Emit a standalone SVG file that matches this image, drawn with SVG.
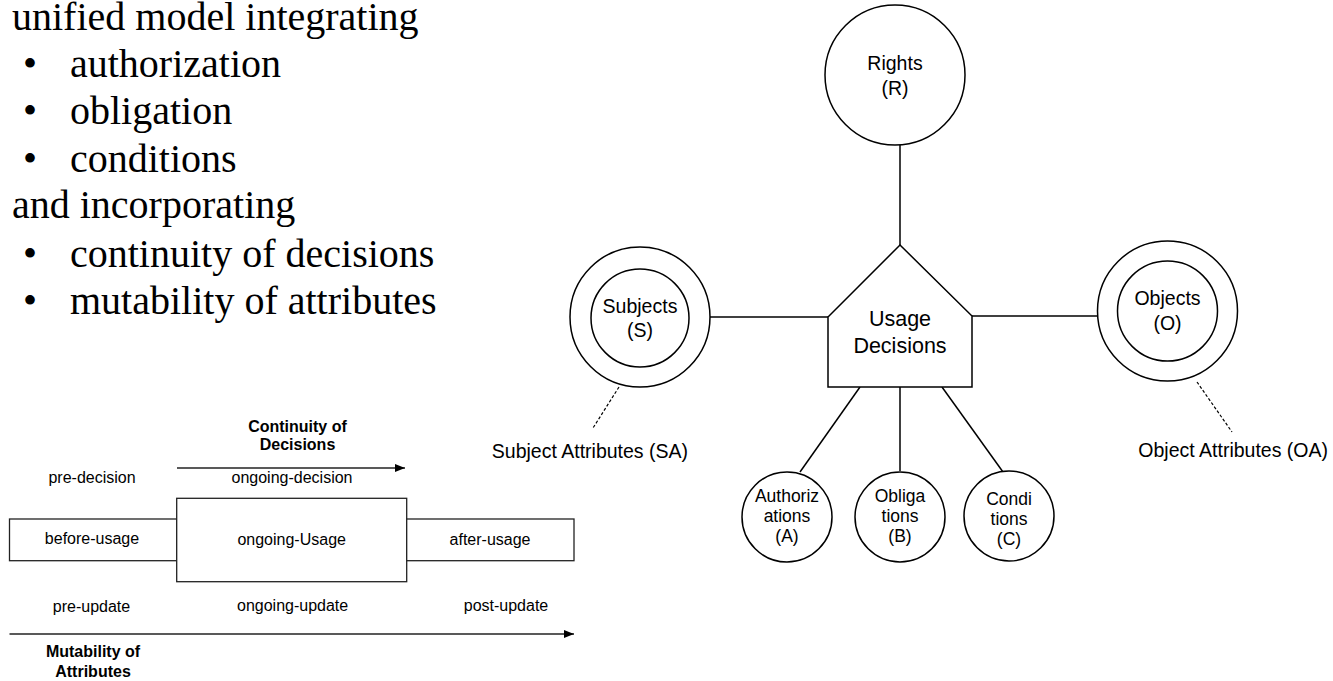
<svg xmlns="http://www.w3.org/2000/svg" width="1333" height="681" viewBox="0 0 1333 681">
<defs>
<style>
.bg{fill:#fff}
.shape{fill:#fff;stroke:#000;stroke-width:1.5}
.box{fill:#fff;stroke:#222;stroke-width:1.3}
.ln{stroke:#000;stroke-width:1.5;fill:none}
.dash{stroke:#000;stroke-width:1.2;stroke-dasharray:3 2;fill:none}
.arr{stroke:#222;stroke-width:1.3;fill:none}
.serif{font-family:"Liberation Serif","Times New Roman",serif;font-size:40px;fill:#000}
.lbl{font-family:"Liberation Sans",Arial,sans-serif;font-size:19.5px;fill:#000;text-anchor:middle}
.big{font-family:"Liberation Sans",Arial,sans-serif;font-size:21.5px;fill:#000;text-anchor:middle}
.sm{font-family:"Liberation Sans",Arial,sans-serif;font-size:17.5px;fill:#000;text-anchor:middle}
.t16{font-family:"Liberation Sans",Arial,sans-serif;font-size:16px;fill:#000;text-anchor:middle}
.b16{font-family:"Liberation Sans",Arial,sans-serif;font-size:16px;font-weight:bold;fill:#000;text-anchor:middle}
</style>
<marker id="ah" viewBox="0 0 10 8" refX="10" refY="4" markerWidth="10" markerHeight="8" markerUnits="userSpaceOnUse" orient="auto">
<path d="M0,0 L10,4 L0,8 Z" fill="#000"/>
</marker>
</defs>
<rect class="bg" x="0" y="0" width="1333" height="681"/>

<g id="bullets-text">
<text class="serif" x="12" y="30">unified model integrating</text>
<text class="serif" x="30" y="77" text-anchor="middle">•</text>
<text class="serif" x="70" y="77">authorization</text>
<text class="serif" x="30" y="124" text-anchor="middle">•</text>
<text class="serif" x="70" y="124">obligation</text>
<text class="serif" x="30" y="172" text-anchor="middle">•</text>
<text class="serif" x="70" y="172">conditions</text>
<text class="serif" x="12" y="218">and incorporating</text>
<text class="serif" x="30" y="267" text-anchor="middle">•</text>
<text class="serif" x="70" y="267">continuity of decisions</text>
<text class="serif" x="30" y="314" text-anchor="middle">•</text>
<text class="serif" x="70" y="314">mutability of attributes</text>
</g>

<g id="connectors">
<line class="ln" x1="900" y1="145" x2="900" y2="245"/>
<line class="ln" x1="709" y1="317" x2="828" y2="317"/>
<line class="ln" x1="972" y1="316" x2="1098" y2="316"/>
<line class="ln" x1="860" y1="387" x2="800" y2="472"/>
<line class="ln" x1="900" y1="387" x2="900" y2="471"/>
<line class="ln" x1="942" y1="387" x2="1003" y2="472"/>
<line class="dash" x1="619" y1="387" x2="593" y2="428"/>
<line class="dash" x1="1197" y1="382" x2="1232" y2="432"/>
</g>

<g id="rights">
<circle class="shape" cx="895" cy="75" r="70"/>
<text class="lbl" x="895" y="70">Rights</text>
<text class="lbl" x="895" y="95">(R)</text>
</g>

<g id="usage-decisions">
<path class="shape" d="M900,245 L972,316 L972,387 L828,387 L828,317 Z"/>
<text class="big" x="900" y="326">Usage</text>
<text class="big" x="900" y="353">Decisions</text>
</g>

<g id="subjects">
<circle class="shape" cx="640" cy="317" r="70"/>
<circle class="shape" cx="640" cy="318" r="49"/>
<text class="lbl" x="640" y="313">Subjects</text>
<text class="lbl" x="640" y="337">(S)</text>
</g>
<g id="subject-attributes">
<text class="lbl" x="688" y="458" style="text-anchor:end">Subject Attributes (SA)</text>
</g>

<g id="objects">
<circle class="shape" cx="1167.5" cy="311" r="70"/>
<circle class="shape" cx="1167.5" cy="311" r="50"/>
<text class="lbl" x="1167.5" y="305">Objects</text>
<text class="lbl" x="1167.5" y="330">(O)</text>
</g>
<g id="object-attributes">
<text class="lbl" x="1328" y="457" style="text-anchor:end">Object Attributes (OA)</text>
</g>

<g id="authorizations">
<circle class="shape" cx="787" cy="517" r="45"/>
<text class="sm" x="787" y="502">Authoriz</text>
<text class="sm" x="787" y="522">ations</text>
<text class="sm" x="787" y="542">(A)</text>
</g>
<g id="obligations">
<circle class="shape" cx="900" cy="517" r="45"/>
<text class="sm" x="900" y="502">Obliga</text>
<text class="sm" x="900" y="522">tions</text>
<text class="sm" x="900" y="542">(B)</text>
</g>
<g id="conditions">
<circle class="shape" cx="1009" cy="516" r="45"/>
<text class="sm" x="1009" y="505">Condi</text>
<text class="sm" x="1009" y="525">tions</text>
<text class="sm" x="1009" y="545">(C)</text>
</g>

<g id="timeline">
<g id="continuity-arrow">
<text class="b16" x="297.5" y="432">Continuity of</text>
<text class="b16" x="297.5" y="450">Decisions</text>
<line class="arr" x1="177" y1="468" x2="405" y2="468" marker-end="url(#ah)"/>
</g>
<text class="t16" x="92" y="483">pre-decision</text>
<text class="t16" x="292" y="483">ongoing-decision</text>
<g id="before-usage">
<rect class="box" x="9.5" y="519" width="167.2" height="41.7"/>
<text class="t16" x="92" y="544">before-usage</text>
</g>
<g id="ongoing-usage">
<rect class="box" x="176.7" y="498.3" width="230" height="83.4"/>
<text class="t16" x="291.7" y="545">ongoing-Usage</text>
</g>
<g id="after-usage">
<rect class="box" x="406.7" y="519" width="167.3" height="41.7"/>
<text class="t16" x="490" y="545">after-usage</text>
</g>
<text class="t16" x="91.5" y="612">pre-update</text>
<text class="t16" x="292.6" y="611">ongoing-update</text>
<text class="t16" x="506" y="611">post-update</text>
<g id="mutability-arrow">
<line class="arr" x1="9.5" y1="634" x2="574" y2="634" marker-end="url(#ah)"/>
<text class="b16" x="93" y="657">Mutability of</text>
<text class="b16" x="93" y="677">Attributes</text>
</g>
</g>
</svg>
